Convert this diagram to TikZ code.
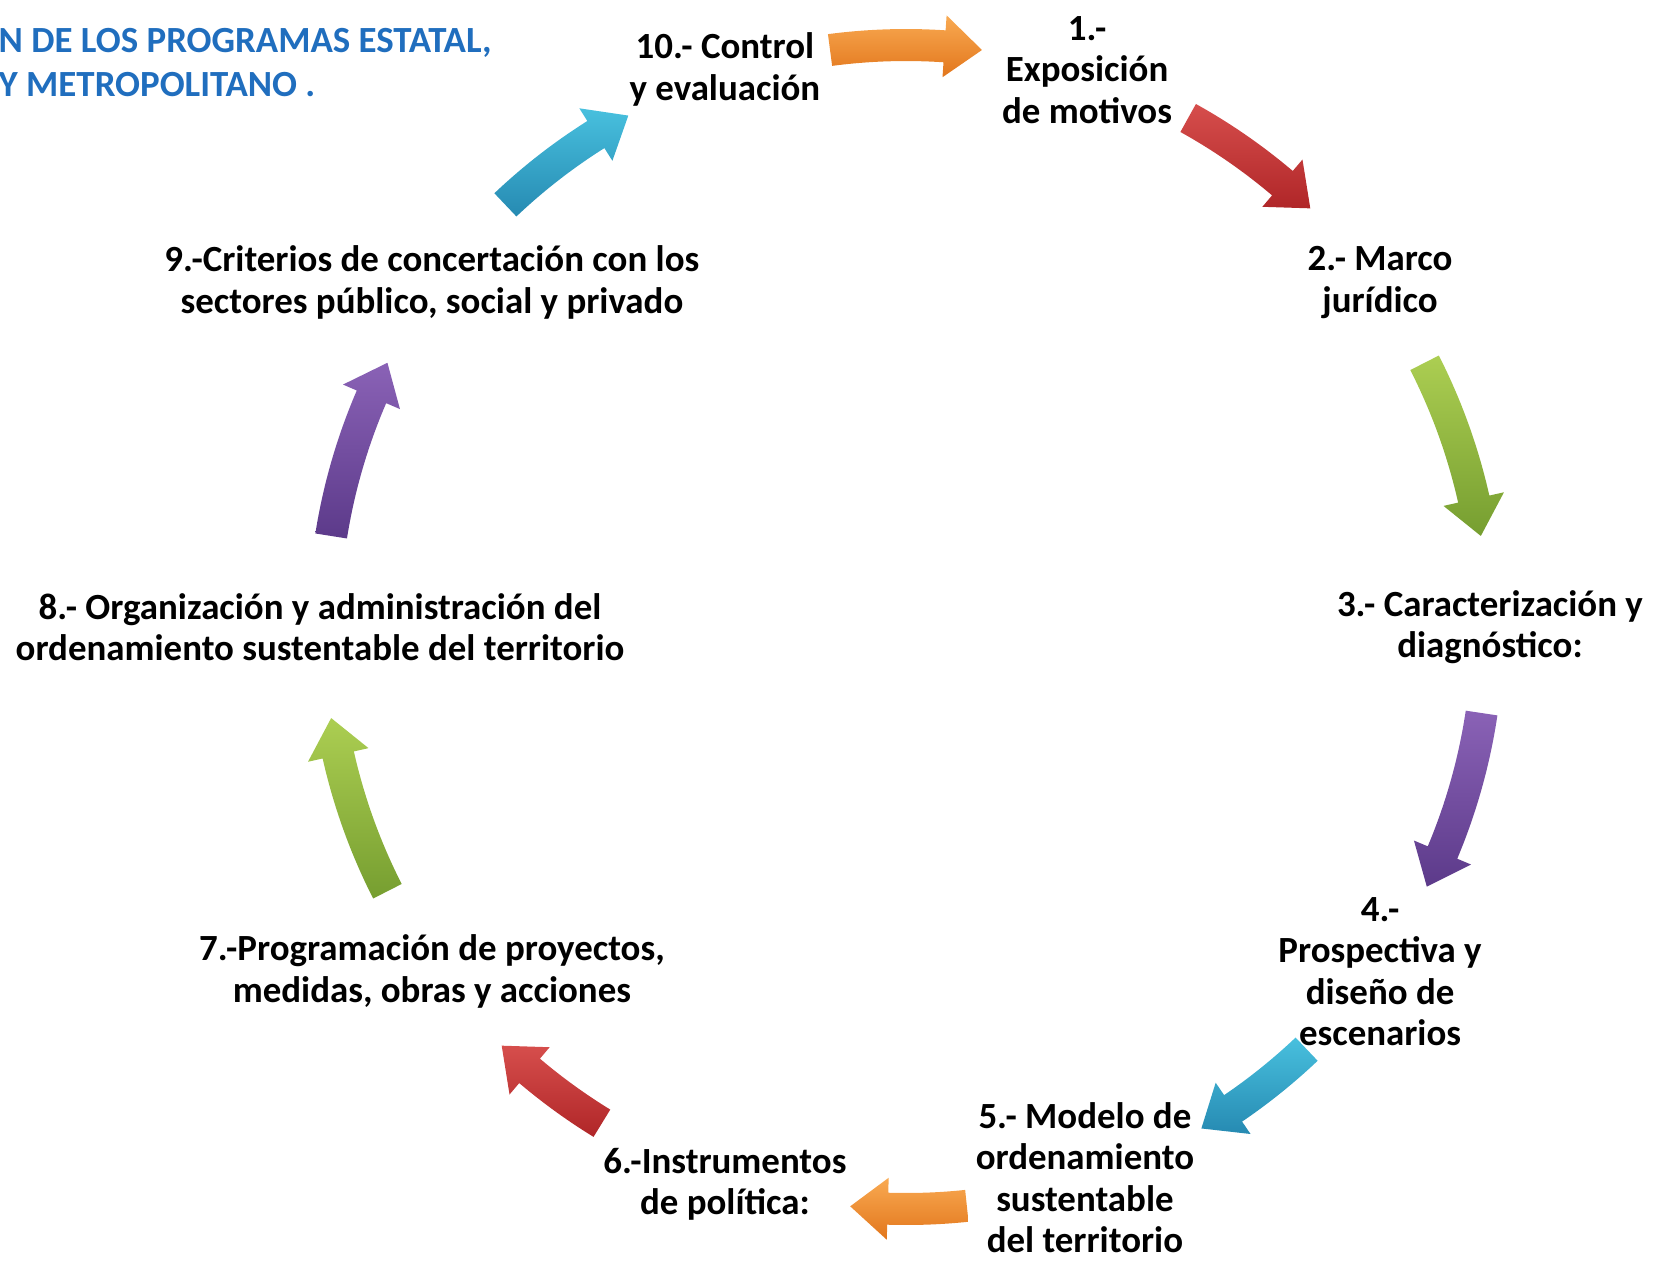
\documentclass[tikz,border=0pt]{standalone}
\usepackage{fontspec}
\setmainfont{Carlito}
\usepackage{tikz}
\usetikzlibrary{positioning}

\definecolor{titleblue}{RGB}{32,110,190}
\definecolor{orgLt}{RGB}{249,170,82}
\definecolor{orgDk}{RGB}{226,118,28}
\definecolor{redLt}{RGB}{214,78,76}
\definecolor{redDk}{RGB}{176,38,40}
\definecolor{grnLt}{RGB}{172,206,82}
\definecolor{grnDk}{RGB}{118,158,48}
\definecolor{purLt}{RGB}{138,98,182}
\definecolor{purDk}{RGB}{92,58,138}
\definecolor{cyaLt}{RGB}{72,192,222}
\definecolor{cyaDk}{RGB}{38,138,178}

\tikzstyle{stage} =
[
	align=center, inner sep=0pt,
	font=\fontsize{10.5}{11.8}\selectfont\bfseries
]
\tikzstyle{heading} =
[
	align=left, inner sep=0pt, text=titleblue,
	font=\fontsize{10.5}{12.6}\selectfont\bfseries
]

\begin{document}
\begin{tikzpicture}

\useasboundingbox (-9.06,-6.33) rectangle (7.51,6.27);

\node[heading, anchor=west] (T) at (-9.08,5.645) {N DE LOS PROGRAMAS ESTATAL,\\Y METROPOLITANO .};

% block arrows round the cycle: tail angle / tip angle / colours
\foreach \s/\e/\lt/\dk in {97.5/82.5/orgLt/orgDk, 61/46/redLt/redDk, 27/9/grnLt/grnDk,
	-8.5/-26.5/purLt/purDk, -46.5/-59.5/cyaLt/cyaDk, -84/-95.5/orgLt/orgDk, -121.5/-134/redLt/redDk,
	-153/-171/grnLt/grnDk, 171/153/purLt/purDk, 133.5/118.5/cyaLt/cyaDk}
{
	\shade[top color=\lt, bottom color=\dk]
		(\s:5.98) arc[start angle=\s, end angle=\e+3.7, radius=5.98]
		-- ({\e+3.7}:6.13) -- (\e:5.82) -- ({\e+3.7}:5.51)
		-- ({\e+3.7}:5.66) arc[start angle=\e+3.7, end angle=\s, radius=5.66] -- cycle;
}

\node[stage] (S10) at (108:5.86) {10.- Control\\y evaluación};
\node[stage] (S1) at (72:5.86) {1.-\\Exposición\\de motivos};
\node[stage] (S2) at (36:5.86) {2.- Marco\\jurídico};
\node[stage] (S3) at (0:5.84) {3.- Caracterización y\\diagnóstico:};
\node[stage] (S4) at (-36:5.86) {4.-\\Prospectiva y\\diseño de\\escenarios};
\node[stage] (S5) at (-72:5.79) {5.- Modelo de\\ordenamiento\\sustentable\\del territorio};
\node[stage] (S6) at (-108:5.86) {6.-Instrumentos\\de política:};
\node[stage] (S7) at (-144:5.86) {7.-Programación de proyectos,\\medidas, obras y acciones};
\node[stage] (S8) at (180:5.86) {8.- Organización y administración del\\ordenamiento sustentable del territorio};
\node[stage] (S9) at (144:5.86) {9.-Criterios de concertación con los\\sectores público, social y privado};

\end{tikzpicture}
\end{document}
